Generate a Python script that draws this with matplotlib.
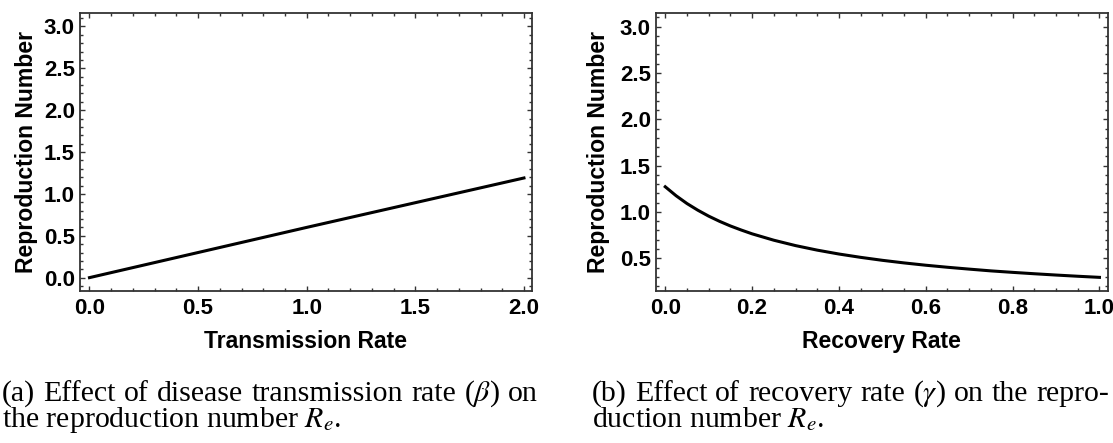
import matplotlib
matplotlib.use("Agg")
import matplotlib.pyplot as plt
from matplotlib.ticker import MultipleLocator

# data
beta = [0.0, 0.5, 1.0, 1.5, 2.0]
re_beta = [0.0, 0.30, 0.60, 0.895, 1.19]

gamma = [0.0, 0.025, 0.05, 0.075, 0.10, 0.125, 0.15, 0.175, 0.20, 0.25, 0.30,
         0.35, 0.40, 0.45, 0.50, 0.55, 0.60, 0.65, 0.70, 0.75, 0.80, 0.85,
         0.90, 0.95, 1.0]
re_gamma = [1.272, 1.175, 1.091, 1.019, 0.955, 0.899, 0.849, 0.805, 0.764,
            0.695, 0.637, 0.588, 0.546, 0.510, 0.478, 0.450, 0.425, 0.403,
            0.383, 0.364, 0.348, 0.333, 0.319, 0.306, 0.294]

xticks_a = [0.0, 0.5, 1.0, 1.5, 2.0]
yticks_a = [0.0, 0.5, 1.0, 1.5, 2.0, 2.5, 3.0]
xticks_b = [0.0, 0.2, 0.4, 0.6, 0.8, 1.0]
yticks_b = [0.5, 1.0, 1.5, 2.0, 2.5, 3.0]

caption_a = [r"(a) Effect of disease transmission rate ($\beta$) on",
             r"the reproduction number $R_e$."]
caption_b = [r"(b) Effect of recovery rate ($\gamma$) on the repro-",
             r"duction number $R_e$."]

plt.rcParams['mathtext.fontset'] = 'stix'
plt.rcParams['font.family'] = 'Liberation Sans'

W, H = 1113, 443
fig = plt.figure(figsize=(W / 100, H / 100), dpi=100)

bold = {'fontweight': 'bold', 'fontsize': 16}


def style_axes(ax, xt, yt, xmin, ymin):
    ax.set_xticks(xt, ['%.1f' % v for v in xt], **bold)
    ax.set_yticks(yt, ['%.1f' % v for v in yt], **bold)
    ax.xaxis.set_minor_locator(MultipleLocator(xmin))
    ax.yaxis.set_minor_locator(MultipleLocator(ymin))
    ax.tick_params(which='both', direction='in', top=True, right=True,
                   color='#333333', width=1.0)
    ax.tick_params(which='major', length=3.8)
    ax.tick_params(which='minor', length=2.2)
    ax.tick_params(axis='x', which='major', pad=5)
    ax.tick_params(axis='y', which='major', pad=3.5)
    for sp in ax.spines.values():
        sp.set_linewidth(1.3)
        sp.set_color('#333333')


# left panel
ax1 = fig.add_axes([79.7 / W, 1 - 290.7 / H, 452.3 / W, 277.7 / H])
ax1.plot(beta, re_beta, color='black', linewidth=2.2)
style_axes(ax1, xticks_a, yticks_a, 0.1, 0.1)
ax1.set_xlim(-0.045, 2.037)
ax1.set_ylim(-0.156, 3.16)
ax1.set_xlabel('Transmission Rate', fontsize=16.5, fontweight='bold', labelpad=8.5)
ax1.set_ylabel('Reproduction Number', fontsize=16.6, fontweight='bold', labelpad=4.5)

# right panel
ax2 = fig.add_axes([655.7 / W, 1 - 290.7 / H, 452 / W, 277.7 / H])
ax2.plot(gamma, re_gamma, color='black', linewidth=2.2)
style_axes(ax2, xticks_b, yticks_b, 0.05, 0.1)
ax2.set_xlim(-0.022, 1.019)
ax2.set_ylim(0.15, 3.148)
ax2.set_xlabel('Recovery Rate', fontsize=16.5, fontweight='bold', labelpad=8.5)
ax2.set_ylabel('Reproduction Number', fontsize=16.6, fontweight='bold', labelpad=7.2)

# captions (first line justified, like the LaTeX source)
cap_font = {'family': 'Liberation Serif', 'fontsize': 21.5}
renderer = fig.canvas.get_renderer()


def justified_line(text, x0, x1, y):
    words = text.split(' ')
    arts = [fig.text(x0 / W, 1 - y / H, w, va='baseline', ha='left', **cap_font)
            for w in words]
    widths = [a.get_window_extent(renderer).width for a in arts]
    gap = (x1 - x0 - sum(widths)) / (len(words) - 1)
    x = x0
    for a, w in zip(arts, widths):
        a.set_x(x / W)
        x += w + gap


def plain_line(text, x0, y):
    fig.text(x0 / W, 1 - y / H, text, va='baseline', ha='left', **cap_font)


justified_line(caption_a[0], 2, 538, 401)
plain_line(caption_a[1], 2, 427)
justified_line(caption_b[0], 592, 1109, 401)
plain_line(caption_b[1], 592, 427)

fig.savefig('out.png', dpi=100)
